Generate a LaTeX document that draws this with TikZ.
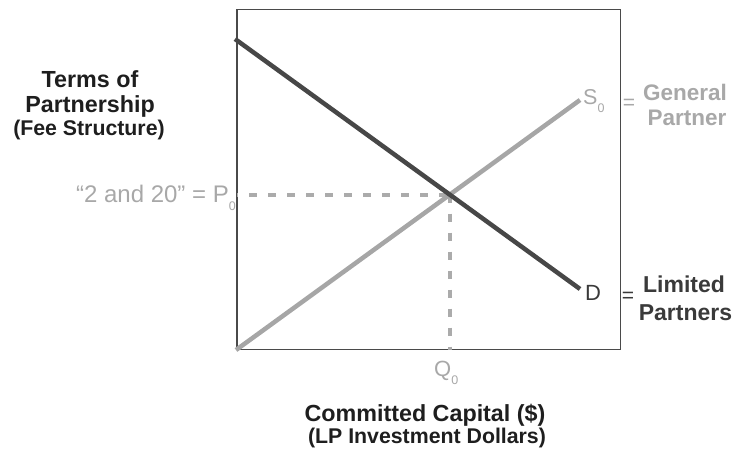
\documentclass[tikz,border=0pt]{standalone}
\usepackage{fontspec}
\setmainfont{Liberation Sans}
\definecolor{darkline}{HTML}{474747}
\definecolor{lightline}{HTML}{A6A6A6}
\definecolor{dashgray}{HTML}{ABABAB}
\definecolor{labelgray}{HTML}{A8A8A8}
\definecolor{framecol}{HTML}{4A4A4A}
\definecolor{titlecol}{HTML}{1E1E1E}
\definecolor{darktext}{HTML}{3A3A3A}
\newcommand\subz{\raisebox{-8pt}{\fontsize{12.5}{12.5}\selectfont 0}}
\begin{document}
\begin{tikzpicture}[x=1pt,y=-1pt,
  frame/.style={draw=framecol,line width=1.3pt},
  demand/.style={draw=darkline,line width=4.5pt},
  supply/.style={draw=lightline,line width=4.5pt},
  guide/.style={draw=dashgray,line width=4pt,dash pattern=on 8pt off 11pt},
  title/.style={font=\fontsize{23.3}{27}\selectfont\bfseries,text=titlecol,inner sep=0pt,anchor=base},
  subtitle/.style={font=\fontsize{21.3}{25}\selectfont\bfseries,text=titlecol,inner sep=0pt,anchor=base},
  glabel/.style={font=\fontsize{22}{26}\selectfont,text=labelgray,inner sep=0pt},
  dlabel/.style={font=\fontsize{22}{26}\selectfont,text=darktext,inner sep=0pt},
  gside/.style={font=\fontsize{22.5}{26}\selectfont\bfseries,text=labelgray,inner sep=0pt,anchor=base},
  dside/.style={font=\fontsize{23}{27}\selectfont\bfseries,text=darktext,inner sep=0pt,anchor=base}
]
\useasboundingbox (0,0) rectangle (734,457);
% frame
\coordinate (O) at (237,349.5);
\coordinate (TL) at (237,9.5);
\coordinate (TR) at (620.5,9.5);
\coordinate (BR) at (620.5,349.5);
\draw[frame] (O) -- (TL) -- (TR) -- (BR) -- cycle;
% curves
\coordinate (D1) at (235,39);
\coordinate (D2) at (580,289);
\coordinate (S1) at (236,350);
\coordinate (S2) at (580,100);
\coordinate (E) at (intersection of D1--D2 and S1--S2);
% guides
\draw[guide,dash phase=7pt] (O |- E) -- (E);
\draw[guide] (E) -- (E |- O);
\draw[supply] (S1) -- (S2);
\draw[demand] (D1) -- (D2);
% axis titles
\node[title] (t1) at (90,88) {Terms of};
\node[title] (t2) at (90,113) {Partnership};
\node[subtitle] (t3) at (89,136) {(Fee Structure)};
\node[title] (x1) at (425,421) {Committed Capital (\$)};
\node[subtitle] (x2) at (427,443) {(LP Investment Dollars)};
% curve labels
\node[glabel,anchor=base east,font=\fontsize{24}{28}\selectfont] (p0) at (236,203) {“2 and 20” = P\subz};
\node[glabel,anchor=base west] (q0) at (434,376) {Q\subz};
\node[glabel,anchor=base west,font=\fontsize{21.5}{25}\selectfont] (s0) at (583,105) {S\subz};
\node[dlabel,anchor=base west,font=\fontsize{22}{25}\selectfont] (d) at (585,301) {D};
\node[glabel,font=\fontsize{21}{24}\selectfont] (eq1) at (629,104.5) {=};
\node[dlabel,font=\fontsize{21}{24}\selectfont] (eq2) at (628,297) {=};
\node[gside] (g1) at (685,101) {General};
\node[gside] (g2) at (687,126) {Partner};
\node[dside] (l1) at (684,292.5) {Limited};
\node[dside] (l2) at (685.5,320) {Partners};
\end{tikzpicture}
\end{document}
